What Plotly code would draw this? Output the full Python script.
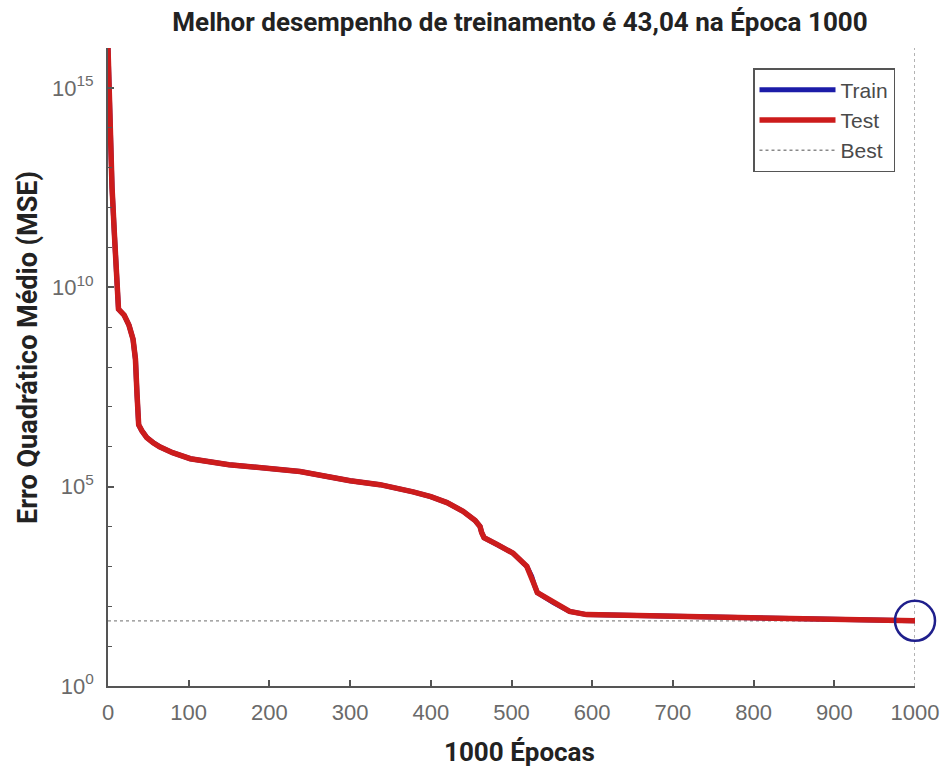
import plotly.graph_objects as go

# Training record (epoch -> mean squared error)
epochs = [0, 1, 2, 3, 5, 8, 10, 13, 20, 26, 31, 34, 36, 38, 42, 48, 56, 64,
          80, 102, 150, 200, 238, 300, 337, 378, 400, 420, 440, 455, 461, 463, 466,
          482, 502, 519, 525, 528, 532, 552, 572, 593, 650, 700, 800, 900, 1000]

test_mse = [1.0e16, 1.0e15, 1.58e14, 3.16e13, 3.16e12, 2.0e11, 3.16e10, 2.82e9,
            2.0e9, 1.12e9, 5.0e8, 1.58e8, 2.0e7, 3.55e6, 2.51e6,
            1.7e6, 1.26e6, 1.0e6, 7.08e5, 5.01e5, 3.55e5, 2.82e5, 2.4e5, 1.41e5,
            1.12e5, 7.41e4, 5.62e4, 3.98e4, 2.4e4, 1.41e4, 1.0e4, 7.08e3, 5.25e3,
            3.55e3, 2.14e3, 1.0e3, 562, 355, 219, 123, 74.1, 61.7, 58.9, 55.0, 51.3,
            47.9, 43.04]

train_mse = [1.0e16, 1.0e15, 1.58e14, 3.16e13, 3.16e12, 2.0e11, 3.16e10, 2.82e9,
             2.0e9, 1.12e9, 5.0e8, 1.58e8, 2.0e7, 3.55e6, 2.51e6,
             1.7e6, 1.26e6, 1.0e6, 7.08e5, 5.01e5, 3.55e5, 2.82e5, 2.4e5, 1.41e5,
             1.12e5, 7.41e4, 5.62e4, 3.98e4, 2.4e4, 1.41e4, 1.0e4, 7.08e3, 5.25e3,
             3.55e3, 2.14e3, 1.0e3, 562, 355, 219, 123, 74.1, 61.7, 58.9, 55.0, 50.6,
             47.2, 43.04]

best_epoch = 1000
best_perf = 43.04

y_min, y_max = 1.0, 1e16
x_ticks = [0, 100, 200, 300, 400, 500, 600, 700, 800, 900, 1000]
y_ticks = [1, 1e5, 1e10, 1e15]
y_tick_text = ["10<sup>0</sup>", "10<sup>5</sup>", "10<sup>10</sup>", "10<sup>15</sup>"]
y_minor = [10.0 ** k for k in range(17)]

title_text = "Melhor desempenho de treinamento é 43,04 na Época 1000"

AXIS = "#555555"
TICKFONT = dict(family="Liberation Sans, Arial, sans-serif", size=22, color="#6a6a6a")
BOLD = "Roboto, Arial, sans-serif"

fig = go.Figure()

# Best-performance guide lines (horizontal at best MSE, vertical at best epoch)
fig.add_trace(go.Scatter(
    x=[epochs[0], best_epoch, None, best_epoch, best_epoch],
    y=[best_perf, best_perf, None, y_min, y_max],
    mode="lines", name="Best",
    line=dict(color="#8a8a8a", width=1.3, dash="dot"),
    legendrank=3, hoverinfo="skip",
))

fig.add_trace(go.Scatter(
    x=epochs, y=train_mse, mode="lines", name="Train",
    line=dict(color="#1c1ca8", width=5), legendrank=1,
))

fig.add_trace(go.Scatter(
    x=epochs, y=test_mse, mode="lines", name="Test",
    line=dict(color="#cc1c1c", width=5.5), legendrank=2,
))

# Marker on the best epoch
fig.add_trace(go.Scatter(
    x=[best_epoch], y=[best_perf], mode="markers", showlegend=False,
    marker=dict(symbol="circle-open", size=40, color="#1f1f8c",
                line=dict(color="#1f1f8c", width=2.5)),
    cliponaxis=False,
))

fig.update_layout(
    width=946, height=770,
    margin=dict(l=108, r=31, t=48, b=84, autoexpand=False),
    paper_bgcolor="white", plot_bgcolor="white",
    title=dict(text=title_text, x=520 / 946, xanchor="center",
               y=1 - 22 / 770, yanchor="middle",
               font=dict(family=BOLD, size=26, color="#222222", weight="bold")),
    xaxis=dict(
        range=[0, 1000], tickmode="array", tickvals=x_ticks,
        ticks="inside", ticklen=6, tickwidth=1.5, tickcolor=AXIS,
        showline=True, linecolor=AXIS, linewidth=1.8,
        showgrid=False, zeroline=False, tickfont=TICKFONT,
        ticklabelstandoff=6, automargin=False,
    ),
    yaxis=dict(
        type="log", range=[0, 16], tickmode="array",
        tickvals=y_ticks, ticktext=y_tick_text,
        ticks="inside", ticklen=6, tickwidth=1.5, tickcolor=AXIS,
        showline=True, linecolor=AXIS, linewidth=1.8,
        showgrid=False, zeroline=False, tickfont=TICKFONT,
        minor=dict(tickmode="array", tickvals=y_minor, ticks="inside",
                   ticklen=4, tickwidth=1.2, tickcolor=AXIS, showgrid=False),
        ticklabelstandoff=8, automargin=False,
    ),
    legend=dict(
        x=(895 - 108) / 807, xanchor="right",
        y=(686 - 68) / 638, yanchor="top",
        bgcolor="white", bordercolor="#555555", borderwidth=1.5,
        font=dict(family="Liberation Sans, Arial, sans-serif", size=21, color="#4a4a4a"),
        tracegroupgap=0, itemwidth=76,
    ),
    annotations=[
        dict(text="1000 Épocas", xref="paper", yref="paper",
             x=(519 - 108) / 807, y=(686 - 752) / 638,
             xanchor="center", yanchor="middle", showarrow=False,
             font=dict(family=BOLD, size=26, color="#222222", weight="bold")),
        dict(text="Erro Quadrático Médio (MSE)", xref="paper", yref="paper",
             x=(28 - 108) / 807, y=(686 - 348) / 638, textangle=-90,
             xanchor="center", yanchor="middle", showarrow=False,
             font=dict(family=BOLD, size=27, color="#222222", weight="bold")),
    ],
)

fig.write_html("out.html")
